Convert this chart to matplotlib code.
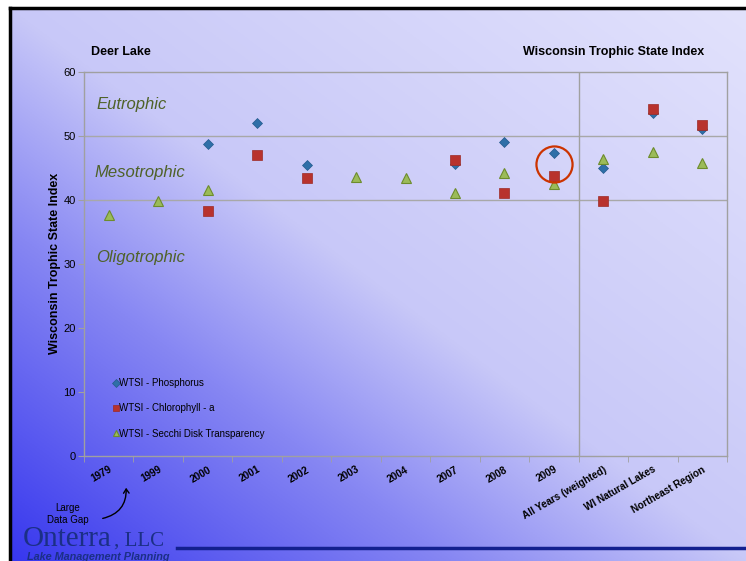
import numpy as np
import matplotlib.pyplot as plt
from matplotlib.patches import FancyArrowPatch

plt.rcParams['font.family'] = ['Liberation Sans', 'DejaVu Sans']

categories = ['1979', '1999', '2000', '2001', '2002', '2003', '2004', '2007',
              '2008', '2009', 'All Years (weighted)', 'WI Natural Lakes',
              'Northeast Region']
phosphorus = [np.nan, np.nan, 48.7, 52.0, 45.4, np.nan, np.nan, 45.5,
              49.0, 47.3, 45.0, 53.5, 51.0]
chlorophyll = [np.nan, np.nan, 38.2, 47.0, 43.4, np.nan, np.nan, 46.2,
               41.1, 43.7, 39.8, 54.2, 51.6]
secchi = [37.6, 39.8, 41.5, np.nan, np.nan, 43.5, 43.4, 41.1,
          44.2, 42.4, 46.4, 47.4, 45.7]

W, H = 746, 561
fig = plt.figure(figsize=(W / 100, H / 100), dpi=100)

# slide background: blue diagonal gradient inside a black frame
bg = fig.add_axes([0, 0, 1, 1])
bg.set_xlim(0, W)
bg.set_ylim(H, 0)
bg.axis('off')
xx, yy = np.meshgrid(np.linspace(0, 1, 300), np.linspace(0, 1, 230))
s = (xx + yy) / 2  # 0 at bottom-left, 1 at top-right (image rows flipped below)
stops = np.array([0.0, 0.3, 0.5, 1.0])
cols = np.array([[55, 55, 238], [135, 135, 243], [200, 200, 248], [226, 226, 252]]) / 255
img = np.dstack([np.interp(s, stops, cols[:, i]) for i in range(3)])
img = img[::-1]
bg.imshow(img, extent=[10, W, H, 8], aspect='auto', zorder=0)
bg.plot([9.5, 9.5], [7.5, H], color='black', lw=2.5, zorder=1)
bg.plot([9.5, W], [7.5, 7.5], color='black', lw=2.5, zorder=1)
bg.plot([177, W], [548, 548], color='#13208f', lw=2.5, zorder=1)

ax = fig.add_axes([84 / W, 1 - 456 / H, (727 - 84) / W, (456 - 71.5) / H])
ax.set_facecolor('none')
x = np.arange(len(categories))

ax.plot(x, phosphorus, 'D', color='#2f6fa8', ms=5.5, mec='#245a8c', mew=0.5,
        label='WTSI - Phosphorus', zorder=3)
ax.plot(x, chlorophyll, 's', color='#b8322d', ms=7, mec='#9c2a26', mew=0.5,
        label='WTSI - Chlorophyll - a', zorder=4)
ax.plot(x, secchi, '^', color='#9bbb59', ms=7, mec='#6d8c2c', mew=0.8,
        label='WTSI - Secchi Disk Transparency', zorder=3)

# highlight the most recent year
ax.plot(x[9], 45.5, 'o', ms=26, mfc='none', mec='#cc3300', mew=1.6, zorder=5)

ax.set_xlim(-0.5, len(categories) - 0.5)
ax.set_ylim(0, 60)
ax.set_yticks(range(0, 61, 10))
ax.set_xticks(x)
ax.set_xticks(np.arange(-0.5, len(categories), 1), minor=True)
ax.set_xticklabels(categories, rotation=30, ha='right', rotation_mode='anchor',
                   fontsize=7.2, fontweight='bold')
ax.tick_params(axis='x', which='major', length=0, pad=6)
ax.tick_params(axis='x', which='minor', length=4, color='#a0a0a0')
ax.tick_params(axis='y', length=4, color='#a0a0a0', labelsize=8, pad=2)
for sp in ax.spines.values():
    sp.set_color('#a0a0a0')
    sp.set_linewidth(1)
for yv in (40, 50):
    ax.axhline(yv, color='#a8a8a8', lw=1, zorder=1)
ax.axvline(9.5, color='#a0a0a0', lw=1, zorder=1)

ax.set_ylabel('Wisconsin Trophic State Index', fontsize=9, fontweight='bold',
              labelpad=1.5)

for label, yv, xv in (('Eutrophic', 54.8, -0.25), ('Mesotrophic', 44.3, -0.29),
                      ('Oligotrophic', 30.9, -0.25)):
    ax.text(xv, yv, label, fontsize=12, style='italic', color='#4f6228',
            va='center')

leg = ax.legend(loc='upper left', bbox_to_anchor=(0.04, 0.212), frameon=False,
                fontsize=7, markerscale=0.7, handlelength=0.4, handletextpad=0.15,
                labelspacing=1.55, borderaxespad=0)

fig.text(91 / W, 1 - 52 / H, 'Deer Lake', fontsize=9, fontweight='bold',
         va='center', ha='left')
fig.text(704 / W, 1 - 52 / H, 'Wisconsin Trophic State Index', fontsize=9,
         fontweight='bold', va='center', ha='right')

# note about the jump from 1979 to 1999
fig.text(68 / W, 1 - 508 / H, 'Large', fontsize=7, ha='center', va='center')
fig.text(68 / W, 1 - 520 / H, 'Data Gap', fontsize=7, ha='center', va='center')
arrow = FancyArrowPatch((100, 519), (126, 485), connectionstyle='arc3,rad=0.45',
                        arrowstyle='->,head_length=3,head_width=2', lw=1,
                        color='black')
bg.add_patch(arrow)

# company logo
bg.text(23, 546, 'Onterra', fontsize=21, family='Liberation Serif',
        color='#1b2f86', va='baseline', ha='left')
bg.text(114, 546, ', LLC', fontsize=15, family='Liberation Serif',
        color='#1b2f86', va='baseline', ha='left')
bg.text(27, 559.5, 'Lake Management Planning', fontsize=7.8, fontweight='bold',
        style='italic', color='#1b2f86', va='baseline', ha='left')

fig.savefig('out.png', dpi=100)
